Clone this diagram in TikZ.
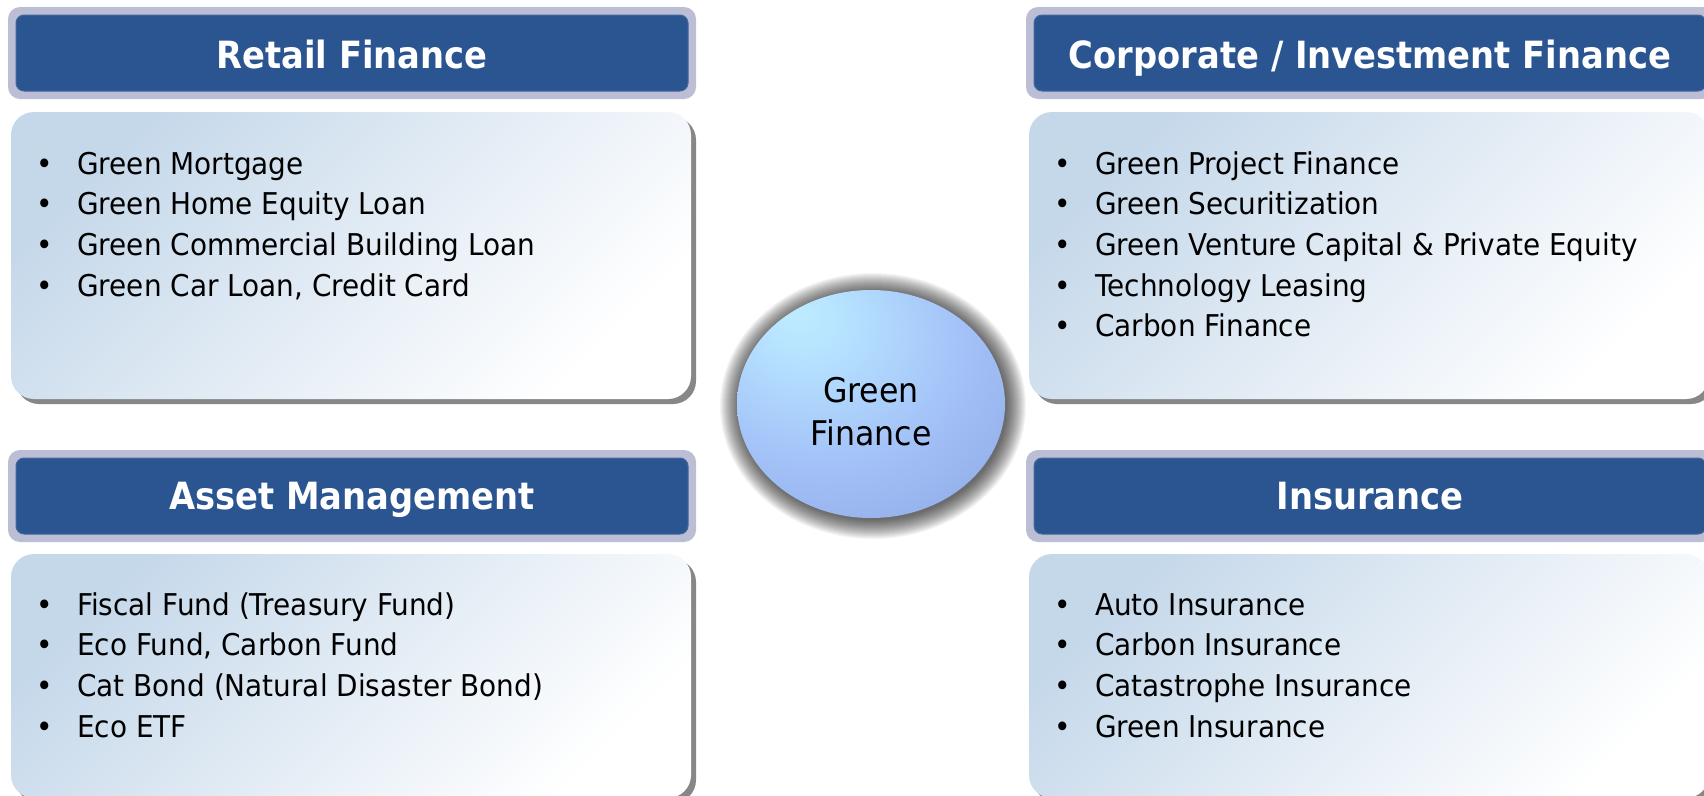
\documentclass[tikz,border=0pt]{standalone}
\usepackage{fontspec}
\setmainfont{DejaVu Sans}[FakeStretch=0.93]
\newfontfamily\hdrfont{DejaVu Sans}[FakeStretch=0.9]
\usetikzlibrary{shapes.geometric}
\definecolor{frameC}{HTML}{BCBED6}
\definecolor{hdrC}{HTML}{2B5591}
\definecolor{hdrEdge}{HTML}{4468A0}
\definecolor{panelA}{HTML}{C5D8EA}
\definecolor{shadowC}{HTML}{878787}
\definecolor{sphA}{HTML}{BDECFF}
\definecolor{sphA2}{HTML}{B6E2FF}
\definecolor{sphB}{HTML}{A4C3F8}
\definecolor{sphC}{HTML}{93AEEA}
\definecolor{sphD}{HTML}{7D93CA}
\definecolor{sphE}{HTML}{62739E}
\definecolor{sphF}{HTML}{454F6A}
\pgfdeclareradialshading{gfball}{\pgfpoint{-14bp}{20bp}}{color(0bp)=(sphA); color(8bp)=(sphA2); color(26bp)=(sphB); color(42bp)=(sphC); color(58bp)=(sphD); color(70bp)=(sphE); color(84bp)=(sphF)}
\tikzset{
  hdrframe/.style={fill=frameC, rounded corners=12pt, inner sep=0, minimum width=688pt, minimum height=92pt},
  hdrbox/.style={fill=hdrC, draw=hdrEdge, line width=1pt, rounded corners=8pt, inner sep=0, minimum width=672pt, minimum height=76pt},
  hdrtext/.style={anchor=base, inner sep=0, text=white, font=\hdrfont\bfseries\fontsize{37.5}{44}\selectfont},
  panelshadow/.style={fill=shadowC, rounded corners=23pt, inner sep=0, minimum width=680pt},
  panelbox/.style={top color=panelA, bottom color=white, shading angle=45, rounded corners=23pt, inner sep=0, minimum width=680pt},
  bul/.style={anchor=base, inner sep=0, font=\fontsize{30}{36}\selectfont},
  itemtext/.style={anchor=base west, inner sep=0, font=\fontsize{30}{36}\selectfont},
}
\begin{document}
\begin{tikzpicture}[x=1pt,y=-1pt]
\useasboundingbox (0,0) rectangle (1704,795);
\clip (0,0) rectangle (1704,795);
\fill[white] (0,0) rectangle (1704,795);

% ---------- Retail Finance ----------
\node[hdrframe] (rf-frame) at (352,53) {};
\node[hdrbox] (rf-hdr) at (352,53) {};
\node[hdrtext] (rf-title) at (352,68) {Retail Finance};
\node[panelshadow, minimum height=287pt] (rf-shadow) at (356,260.5) {};
\node[panelbox, minimum height=287pt] (rf-body) at (351,255.5) {};
\foreach \t [count=\i] in {Green Mortgage, Green Home Equity Loan, Green Commercial Building Loan, {Green Car Loan, Credit Card}} {
  \node[bul] (rf-b\i) at (45,{174+40.67*(\i-1)}) {\textbullet};
  \node[itemtext] (rf-i\i) at (77,{174+40.67*(\i-1)}) {\t};
}

% ---------- Asset Management ----------
\node[hdrframe] (am-frame) at (352,496) {};
\node[hdrbox] (am-hdr) at (352,496) {};
\node[hdrtext] (am-title) at (352,509) {Asset Management};
\node[panelshadow, minimum height=244pt] (am-shadow) at (356,681) {};
\node[panelbox, minimum height=244pt] (am-body) at (351,676) {};
\foreach \t [count=\i] in {Fiscal Fund (Treasury Fund), {Eco Fund, Carbon Fund}, Cat Bond (Natural Disaster Bond), Eco ETF} {
  \node[bul] (am-b\i) at (45,{615+40.67*(\i-1)}) {\textbullet};
  \node[itemtext] (am-i\i) at (77,{615+40.67*(\i-1)}) {\t};
}

% ---------- Corporate / Investment Finance ----------
\node[hdrframe] (ci-frame) at (1370,53) {};
\node[hdrbox] (ci-hdr) at (1370,53) {};
\node[hdrtext] (ci-title) at (1370,68) {Corporate / Investment Finance};
\node[panelshadow, minimum height=287pt] (ci-shadow) at (1374,260.5) {};
\node[panelbox, minimum height=287pt] (ci-body) at (1369,255.5) {};
\foreach \t [count=\i] in {Green Project Finance, Green Securitization, Green Venture Capital \& Private Equity, Technology Leasing, Carbon Finance} {
  \node[bul] (ci-b\i) at (1063,{174+40.67*(\i-1)}) {\textbullet};
  \node[itemtext] (ci-i\i) at (1095,{174+40.67*(\i-1)}) {\t};
}

% ---------- Insurance ----------
\node[hdrframe] (in-frame) at (1370,496) {};
\node[hdrbox] (in-hdr) at (1370,496) {};
\node[hdrtext] (in-title) at (1370,509) {Insurance};
\node[panelshadow, minimum height=244pt] (in-shadow) at (1374,681) {};
\node[panelbox, minimum height=244pt] (in-body) at (1369,676) {};
\foreach \t [count=\i] in {Auto Insurance, Carbon Insurance, Catastrophe Insurance, Green Insurance} {
  \node[bul] (in-b\i) at (1063,{615+40.67*(\i-1)}) {\textbullet};
  \node[itemtext] (in-i\i) at (1095,{615+40.67*(\i-1)}) {\t};
}

% ---------- Green Finance sphere ----------
\foreach \k in {1,...,20} {
  \fill[black, opacity=0.04] (873,406) ellipse ({133+\k} and {113+\k});
}
\node[ellipse, inner sep=0, minimum width=268pt, minimum height=228pt, shading=gfball] (gf) at (871,404) {};
\node[align=center, inner sep=0, font=\fontsize{34}{43}\selectfont] (gf-label) at (871,411.5) {Green\\Finance};
\end{tikzpicture}
\end{document}
